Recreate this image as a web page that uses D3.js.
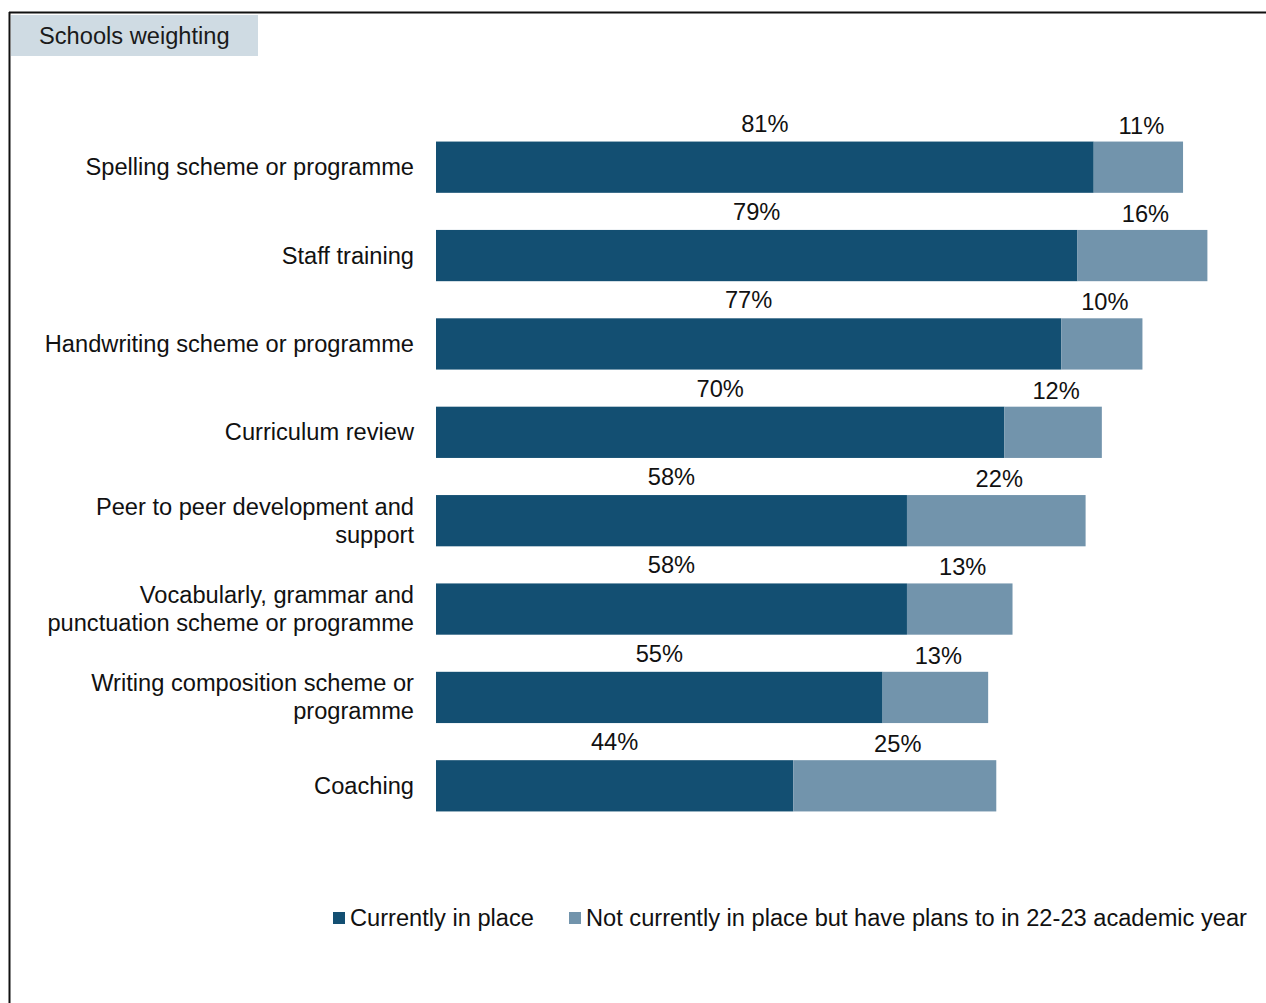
<!DOCTYPE html>
<html>
<head>
<meta charset="utf-8">
<script src="https://cdn.jsdelivr.net/npm/d3@7"></script>
<style>
  html, body { margin: 0; padding: 0; background: #fff; }
  svg { display: block; font-family: "Liberation Sans", Arial, sans-serif; }
</style>
</head>
<body>
<svg id="chart" width="1266" height="1003"></svg>
<script>
// Activities, top to bottom (label lines split with "|")
const categories = [
  "Spelling scheme or programme",
  "Staff training",
  "Handwriting scheme or programme",
  "Curriculum review",
  "Peer to peer development and|support",
  "Vocabularly, grammar and|punctuation scheme or programme",
  "Writing composition scheme or|programme",
  "Coaching"
];
const currentlyInPlace = [81, 79, 77, 70, 58, 58, 55, 44];
const plannedNextYear  = [11, 16, 10, 12, 22, 13, 13, 25];
const seriesNames = [
  "Currently in place",
  "Not currently in place but have plans to in 22-23 academic year"
];
const colors = ["#134f72", "#7294ac"];

const svg = d3.select("#chart");
const fontSize = 23.65;

// Outer frame: top and left rules
svg.append("line").attr("x1", 9).attr("x2", 1266).attr("y1", 12.5).attr("y2", 12.5)
  .attr("stroke", "#111").attr("stroke-width", 2);
svg.append("line").attr("x1", 9.5).attr("x2", 9.5).attr("y1", 12).attr("y2", 1003)
  .attr("stroke", "#111").attr("stroke-width", 2);

// Header tab
svg.append("rect").attr("x", 11).attr("y", 15).attr("width", 247).attr("height", 41)
  .attr("fill", "#cfdbe3");
svg.append("text").attr("x", 39).attr("y", 44).attr("font-size", fontSize)
  .attr("fill", "#1a1a1a").text("Schools weighting");

// Scales
const x = d3.scaleLinear().domain([0, 100]).range([436, 1248]);
const y = d3.scaleBand().domain(d3.range(categories.length))
  .range([123, 830]).paddingInner(0.42).paddingOuter(0.21);

const rows = categories.map((c, i) => ({
  label: c, a: currentlyInPlace[i], b: plannedNextYear[i], i
}));

const g = svg.append("g");

// Stacked bars
g.selectAll("rect.a").data(rows).join("rect").attr("class", "a")
  .attr("x", d => x(0)).attr("y", d => y(d.i))
  .attr("width", d => x(d.a) - x(0)).attr("height", y.bandwidth())
  .attr("fill", colors[0]);
g.selectAll("rect.b").data(rows).join("rect").attr("class", "b")
  .attr("x", d => x(d.a)).attr("y", d => y(d.i))
  .attr("width", d => x(d.a + d.b) - x(d.a)).attr("height", y.bandwidth())
  .attr("fill", colors[1]);

// Value labels above each segment
g.selectAll("text.la").data(rows).join("text").attr("class", "la")
  .attr("x", d => (x(0) + x(d.a)) / 2).attr("y", d => y(d.i) - 10)
  .attr("text-anchor", "middle").attr("font-size", fontSize).attr("fill", "#111")
  .text(d => d.a + "%");
g.selectAll("text.lb").data(rows).join("text").attr("class", "lb")
  .attr("x", d => (x(d.a) + x(d.a + d.b)) / 2 + 3).attr("y", d => y(d.i) - 8)
  .attr("text-anchor", "middle").attr("font-size", fontSize).attr("fill", "#111")
  .text(d => d.b + "%");

// Category labels, right-aligned
const lineH = 28;
g.selectAll("text.cat").data(rows).join("text").attr("class", "cat")
  .attr("text-anchor", "end").attr("font-size", fontSize).attr("fill", "#111")
  .each(function(d) {
    const lines = d.label.split("|");
    const cy = y(d.i) + y.bandwidth() / 2;
    const first = cy - (lines.length - 1) * lineH / 2 + 8;
    d3.select(this).selectAll("tspan").data(lines).join("tspan")
      .attr("x", 414).attr("y", (l, k) => first + k * lineH).text(l => l);
  });

// Legend
const legendItems = [
  { name: seriesNames[0], color: colors[0], x: 333 },
  { name: seriesNames[1], color: colors[1], x: 569 }
];
const lg = svg.append("g");
lg.selectAll("rect").data(legendItems).join("rect")
  .attr("x", d => d.x).attr("y", 912).attr("width", 12).attr("height", 12)
  .attr("fill", d => d.color);
lg.selectAll("text").data(legendItems).join("text")
  .attr("x", d => d.x + 17).attr("y", 926).attr("font-size", fontSize).attr("fill", "#111")
  .text(d => d.name);
</script>
</body>
</html>
